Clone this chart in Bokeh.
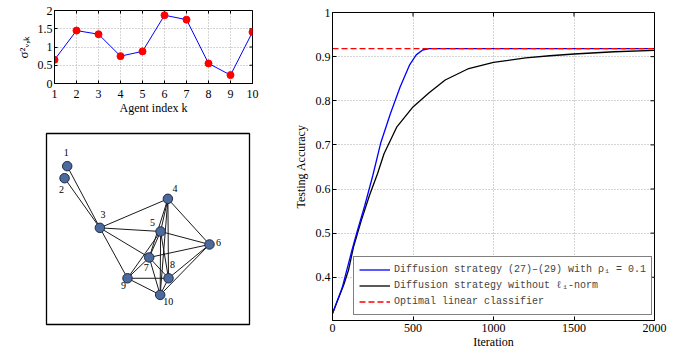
import math
from bokeh.plotting import figure
from bokeh.layouts import row, column
from bokeh.models import (Range1d, FixedTicker, Legend, LegendItem,
                          CustomJSTickFormatter, ColumnDataSource)
from bokeh.core.properties import value
from bokeh.embed import file_html
from bokeh.resources import INLINE

# ---------------- data ----------------
# (a) noise variance per agent
agents = [1, 2, 3, 4, 5, 6, 7, 8, 9, 10]
noise_var = [0.65, 1.45, 1.35, 0.75, 0.88, 1.87, 1.75, 0.55, 0.23, 1.41]
agent_ticks = [1, 2, 3, 4, 5, 6, 7, 8, 9, 10]
var_ticks = [0, 0.5, 1, 1.5, 2]

# (b) network topology (node positions in unit square)
node_ids = ["1", "2", "3", "4", "5", "6", "7", "8", "9", "10"]
node_x = [0.102, 0.089, 0.263, 0.598, 0.562, 0.803, 0.506, 0.601, 0.399, 0.560]
node_y = [0.829, 0.766, 0.506, 0.658, 0.487, 0.419, 0.351, 0.242, 0.242, 0.155]
edge_from = [1, 2, 3, 3, 3, 3, 4, 4, 4, 4, 4, 5, 5, 5, 5, 5, 6, 6, 6, 7, 7, 7, 8, 8, 9]
edge_to   = [3, 3, 4, 5, 7, 9, 5, 6, 7, 8, 10, 6, 7, 8, 9, 10, 7, 8, 10, 8, 9, 10, 9, 10, 10]

# (c) testing accuracy vs iteration
iter_l1 = [0, 60, 120, 150, 200, 250, 300, 360, 420, 480, 520, 560, 600, 1000, 1500, 2000]
acc_l1 = [0.318, 0.376, 0.46, 0.50, 0.562, 0.630, 0.705, 0.771, 0.831, 0.882, 0.904,
          0.915, 0.918, 0.918, 0.918, 0.918]
iter_plain = [0, 70, 100, 130, 180, 230, 280, 320, 400, 500, 600, 700, 840, 1000,
              1200, 1350, 1500, 1750, 2000]
acc_plain = [0.318, 0.383, 0.417, 0.468, 0.530, 0.586, 0.635, 0.680, 0.741, 0.786, 0.818,
             0.847, 0.872, 0.887, 0.897, 0.902, 0.906, 0.911, 0.914]
optimal_iter = [0, 2000]
optimal_acc = [0.918, 0.918]
iter_ticks = [0, 500, 1000, 1500, 2000]
acc_ticks = [0.4, 0.5, 0.6, 0.7, 0.8, 0.9, 1.0]
legend_labels = ["Diffusion strategy (27)\u2013(29) with \u03c1\u2081 = 0.1",
                 "Diffusion strategy without \u2113\u2081-norm",
                 "Optimal linear classifier"]

SERIF = "Liberation Serif"
MONO = "Liberation Mono"
fmt = CustomJSTickFormatter(code="return String(Math.round(tick*100)/100);")


def style_axes(p, xticks, yticks, fs, tick_len):
    xt = FixedTicker(ticks=xticks)
    yt = FixedTicker(ticks=yticks)
    xa, ya = p.below[0], p.left[0]
    for ax, t in ((xa, xt), (ya, yt)):
        ax.ticker = t
        ax.formatter = fmt
        ax.major_tick_in = tick_len
        ax.major_tick_out = 0
        ax.minor_tick_line_color = None
        ax.axis_line_color = "black"
        ax.major_tick_line_color = "black"
        ax.major_label_text_font = SERIF
        ax.major_label_text_font_size = fs
        ax.major_label_text_color = "black"
        ax.axis_label_text_font = SERIF
        ax.axis_label_text_font_style = "normal"
        ax.axis_label_text_color = "black"
        ax.axis_label_text_font_size = "12px"
    # mirrored ticks on top and right edges (MATLAB box style)
    xr, yr = p.x_range, p.y_range
    p.scatter(xticks, [yr.end] * len(xticks), marker="dash", angle=math.pi / 2,
              size=2 * tick_len, line_color="black", line_width=1)
    p.scatter([xr.end] * len(yticks), yticks, marker="dash",
              size=2 * tick_len, line_color="black", line_width=1)
    p.xgrid.ticker = xt
    p.ygrid.ticker = yt
    for g in (p.xgrid, p.ygrid):
        g.grid_line_color = "#a8a8a8"
        g.grid_line_dash = "1 2"
        g.grid_line_width = 1
    p.outline_line_color = "black"
    return xa, ya


# ---------------- (a) ----------------
p1 = figure(width=273, height=117, output_backend="svg", toolbar_location=None,
            x_range=Range1d(1, 10), y_range=Range1d(0, 2),
            min_border_left=54, min_border_right=21, min_border_top=10, min_border_bottom=29)
xa1, ya1 = style_axes(p1, agent_ticks, var_ticks, "12px", 3)
xa1.axis_label = "Agent index k"
xa1.axis_label_standoff = 0
xa1.major_label_standoff = 6
ya1.axis_label = "\u03c3\u00b2\u1d65,\u2096"
ya1.axis_label_text_font_size = "13px"
ya1.axis_label_standoff = 4
ya1.major_label_standoff = 2
p1.line(agents, noise_var, line_color="blue", line_width=1)
p1.scatter(agents, noise_var, size=7, fill_color="red", line_color="red")

# ---------------- (b) ----------------
p2 = figure(width=273, height=234, output_backend="svg", toolbar_location=None,
            x_range=Range1d(0, 1), y_range=Range1d(0, 1),
            x_axis_type=None, y_axis_type=None,
            min_border_left=46, min_border_right=24, min_border_top=16, min_border_bottom=27)
p2.grid.visible = False
p2.outline_line_color = "black"
p2.outline_line_width = 1.3
ex0 = [node_x[i - 1] for i in edge_from]
ey0 = [node_y[i - 1] for i in edge_from]
ex1 = [node_x[i - 1] for i in edge_to]
ey1 = [node_y[i - 1] for i in edge_to]
p2.segment(ex0, ey0, ex1, ey1, line_color="#1a1a1a", line_width=1)
p2.scatter(node_x, node_y, size=9.5, fill_color="#4d6a9c", line_color="#1c2b4a", line_width=1)
label_dx = [-1, -3, 3, 7, -8, 9, -3, 4, -4, 8]
label_dy = [-14, 11, -13, -10, -9, -2, 10, -14, 7, 7]
lsrc = ColumnDataSource(dict(x=node_x, y=node_y, t=node_ids, dx=label_dx, dy=label_dy))
p2.text(x="x", y="y", text="t", x_offset="dx", y_offset="dy", source=lsrc,
        text_align="center", text_baseline="middle", text_font=value(SERIF),
        text_font_size="10px", text_color="black")

# ---------------- (c) ----------------
p3 = figure(width=413, height=351, output_backend="svg", toolbar_location=None,
            x_range=Range1d(0, 2000), y_range=Range1d(0.302, 1),
            min_border_left=59, min_border_right=32, min_border_top=12, min_border_bottom=29)
xa3, ya3 = style_axes(p3, iter_ticks, acc_ticks, "12px", 4)
xa3.axis_label = "Iteration"
xa3.axis_label_standoff = 0
xa3.major_label_standoff = 3
ya3.axis_label = "Testing Accuracy"
ya3.axis_label_standoff = 5
ya3.major_label_standoff = 2
r_plain = p3.line(iter_plain, acc_plain, line_color="black", line_width=1.3)
r_l1 = p3.line(iter_l1, acc_l1, line_color="blue", line_width=1.3)
r_opt = p3.line(optimal_iter, optimal_acc, line_color="red", line_dash="6 3", line_width=1.3)
legend = Legend(items=[LegendItem(label=legend_labels[0], renderers=[r_l1]),
                       LegendItem(label=legend_labels[1], renderers=[r_plain]),
                       LegendItem(label=legend_labels[2], renderers=[r_opt])],
                location=(21, 5), label_text_font=MONO, label_text_font_size="10px",
                glyph_width=31, glyph_height=15, label_height=15, label_standoff=4,
                padding=5, spacing=1, margin=0, border_line_color="black",
                border_line_width=1, background_fill_alpha=1)
p3.add_layout(legend)

root = row(column(p1, row(p2)), p3)
open("out.html", "w").write(file_html(root, INLINE))
